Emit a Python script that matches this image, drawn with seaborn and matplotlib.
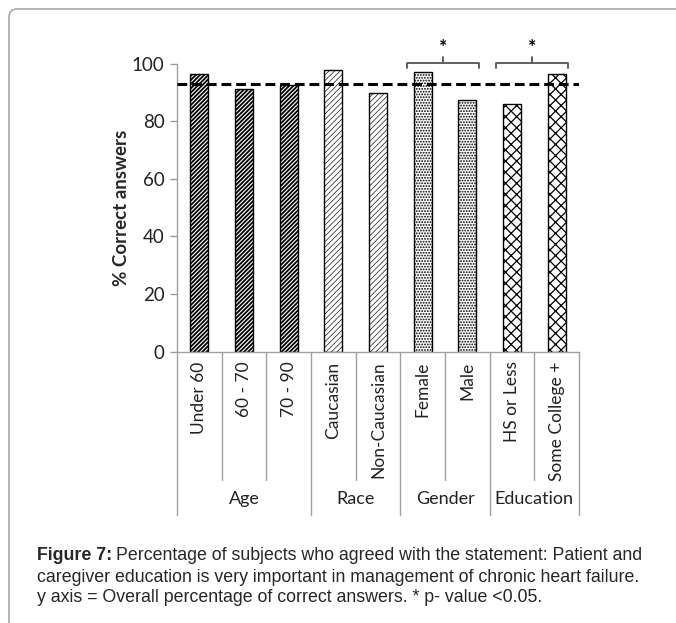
import matplotlib
matplotlib.use("Agg")
import matplotlib.pyplot as plt
import matplotlib.transforms as mtransforms
from matplotlib.patches import FancyBboxPatch
import seaborn as sns
import pandas as pd

# Data
categories = ["Under 60", "60 - 70", "70 - 90", "Caucasian", "Non-Caucasian",
              "Female", "Male", "HS or Less", "Some College +"]
groups = ["Age", "Race", "Gender", "Education"]
group_sizes = [3, 2, 2, 2]
percent_correct = [96.4, 91.2, 92.7, 97.8, 89.9, 97.2, 87.4, 86.1, 96.4]
overall_percent = 93.0
significant_pairs = [("Female", "Male"), ("HS or Less", "Some College +")]
yticks = [0, 20, 40, 60, 80, 100]

hatch_by_group = {"Age": "////////", "Race": "//////", "Gender": "......", "Education": "xxx"}
hatch_width_by_group = {"Age": 1.3, "Race": 0.45, "Gender": 0.9, "Education": 0.9}

sns.set_theme(style="white")
plt.rcParams["font.family"] = ["Lato", "DejaVu Sans"]
plt.rcParams["hatch.linewidth"] = 0.9

fig = plt.figure(figsize=(6.76, 6.23), dpi=100)
ax = fig.add_axes([177 / 676, 1 - 351.7 / 623, 402 / 676, 288 / 623])

df = pd.DataFrame({"category": categories, "value": percent_correct})
sns.barplot(data=df, x="category", y="value", order=categories, color="white",
            edgecolor="black", linewidth=1.0, width=0.4, saturation=1, ax=ax)

# hatch each bar by its group
group_of = []
for g, n in zip(groups, group_sizes):
    group_of += [g] * n
for patch, g in zip(ax.patches, group_of):
    patch.set_hatch(hatch_by_group[g])
    if hasattr(patch, "set_hatch_linewidth"):
        patch.set_hatch_linewidth(hatch_width_by_group[g])
    patch.set_facecolor("white")
    patch.set_edgecolor("black")

ax.set_ylim(0, 100)
ax.set_xlim(-0.5, len(categories) - 0.5)
ax.set_yticks(yticks)
ax.set_yticklabels([str(t) for t in yticks], fontsize=13.5, color="#222222")
ax.tick_params(axis="y", length=5, width=1, color="#999999", pad=4, left=True)
ax.set_ylabel("% Correct answers", fontsize=13.5, fontweight="bold", labelpad=1)
ax.set_xlabel("")
ax.set_xticks(range(len(categories)))
ax.set_xticklabels(categories, rotation=90, fontsize=12.5, color="#222222")
ax.tick_params(axis="x", length=0, pad=7)

for side in ["top", "right"]:
    ax.spines[side].set_visible(False)
for side in ["left", "bottom"]:
    ax.spines[side].set_color("#a0a0a0")
    ax.spines[side].set_linewidth(1)

# overall reference line
ax.axhline(overall_percent, color="black", lw=2.2, ls=(0, (3.2, 1.6)), zorder=5)

# category separators below the axis
trans = mtransforms.blended_transform_factory(ax.transData, ax.transAxes)
boundaries = []
pos = 0
for n in group_sizes:
    boundaries.append(pos)
    pos += n
boundaries.append(pos)
for b in range(len(categories) + 1):
    x = b - 0.5
    depth = -0.567 if b in boundaries else -0.445
    ax.plot([x, x], [0, depth], transform=trans, color="#a0a0a0", lw=1, clip_on=False)

# group labels
start = 0
for g, n in zip(groups, group_sizes):
    center = start + (n - 1) / 2
    ax.text(center, -0.51, g, transform=trans, ha="center", va="center",
            fontsize=13, color="#222222")
    start += n

# significance brackets
for a, b in significant_pairs:
    i, j = categories.index(a), categories.index(b)
    x0, x1 = i - 0.36, j + 0.26
    xm = (x0 + x1) / 2
    ax.plot([x0, x0, x1, x1], [98.6, 100.2, 100.2, 98.6], color="#555555",
            lw=1.3, clip_on=False)
    ax.plot([xm, xm], [100.2, 102.2], color="#555555", lw=1.3, clip_on=False)
    ax.text(xm, 105.5, "*", ha="center", va="center", fontsize=14,
            fontweight="bold", color="black", clip_on=False)

# outer frame
frame = FancyBboxPatch((0.09, -1.0), 8.0, 7.14, boxstyle="round,pad=0,rounding_size=0.08",
                       transform=fig.dpi_scale_trans, ec="#a8a8a8", fc="none", lw=1.2)
fig.patches.append(frame)

# caption
cap_font = ["Liberation Sans", "DejaVu Sans"]
cap_size = 12.8
x0 = 37 / 676
lines_y = [1 - 555 / 623, 1 - 577 / 623, 1 - 598 / 623]
bold = fig.text(x0, lines_y[0], "Figure 7:", fontsize=cap_size, fontweight="bold",
                family=cap_font, va="center", ha="left")
fig.canvas.draw()
bb = bold.get_window_extent(renderer=fig.canvas.get_renderer())
fig.text(bb.x1 / fig.bbox.width + 4 / 676, lines_y[0],
         "Percentage of subjects who agreed with the statement: Patient and",
         fontsize=cap_size, family=cap_font, va="center", ha="left")
fig.text(x0, lines_y[1],
         "caregiver education is very important in management of chronic heart failure.",
         fontsize=cap_size, family=cap_font, va="center", ha="left")
fig.text(x0, lines_y[2],
         "y axis = Overall percentage of correct answers. * p- value <0.05.",
         fontsize=cap_size, family=cap_font, va="center", ha="left")

fig.savefig("out.png", dpi=100)
